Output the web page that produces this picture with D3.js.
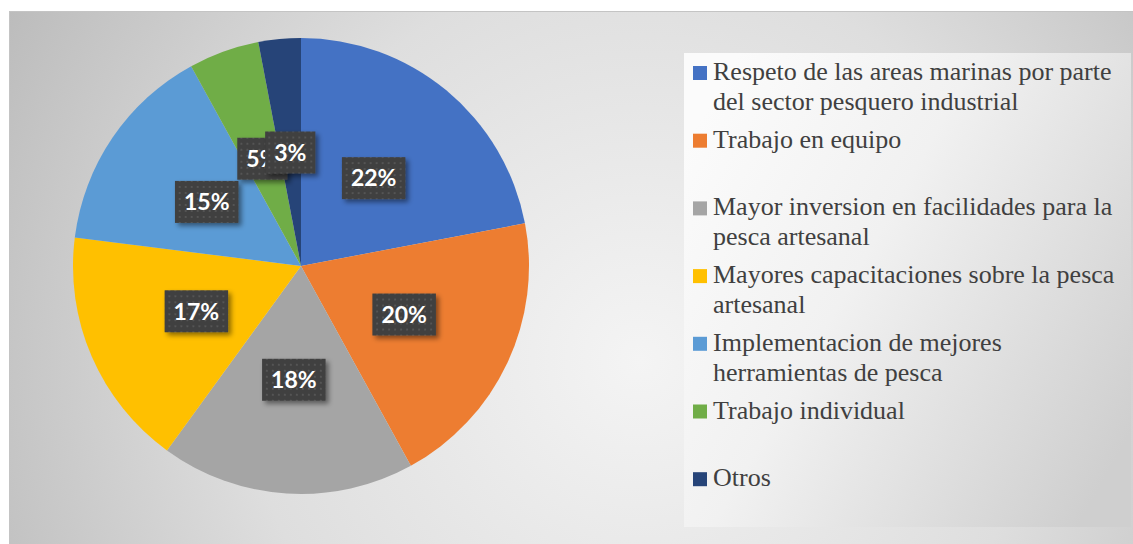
<!DOCTYPE html>
<html>
<head>
<meta charset="utf-8">
<script src="https://cdn.jsdelivr.net/npm/d3@7"></script>
<style>
  body { margin: 0; background: #fff; }
  svg { display: block; }
</style>
</head>
<body>
<div id="chart"></div>
<script>
// data
const categories = [
  'Respeto de las areas marinas por parte del sector pesquero industrial',
  'Trabajo en equipo',
  'Mayor inversion en facilidades para la pesca artesanal',
  'Mayores capacitaciones sobre la pesca artesanal',
  'Implementacion de mejores herramientas de pesca',
  'Trabajo individual',
  'Otros'
];
const values = [22, 20, 18, 17, 15, 5, 3];
const palette = ['#4472c4', '#ed7d31', '#a5a5a5', '#ffc000', '#5b9bd5', '#70ad47', '#264478'];

const width = 1133, height = 544;
const cx = 301, cy = 266, radius = 228;

const svg = d3.select('#chart').append('svg')
  .attr('width', width)
  .attr('height', height);

const defs = svg.append('defs');

// chart background
const bg = defs.append('radialGradient').attr('id', 'bg-grad')
  .attr('gradientUnits', 'userSpaceOnUse')
  .attr('cx', 640).attr('cy', 360).attr('r', 720);
bg.append('stop').attr('offset', '0').attr('stop-color', '#f4f4f4');
bg.append('stop').attr('offset', '0.55').attr('stop-color', '#dedede');
bg.append('stop').attr('offset', '1').attr('stop-color', '#bcbcbc');

const lg = defs.append('linearGradient').attr('id', 'legend-grad')
  .attr('x1', 0).attr('y1', 0.2).attr('x2', 1).attr('y2', 0.8);
lg.append('stop').attr('offset', '0').attr('stop-color', '#fbfbfb');
lg.append('stop').attr('offset', '0.4').attr('stop-color', '#f1f1f1');
lg.append('stop').attr('offset', '1').attr('stop-color', '#cfcfcf');

const pat = defs.append('pattern').attr('id', 'dots')
  .attr('patternUnits', 'userSpaceOnUse')
  .attr('width', 6).attr('height', 6);
pat.append('rect').attr('width', 6).attr('height', 6).attr('fill', '#3f3f3f');
pat.append('rect').attr('x', 2).attr('y', 2).attr('width', 2).attr('height', 2).attr('fill', '#545454');

const shadow = defs.append('filter').attr('id', 'shadow')
  .attr('x', '-30%').attr('y', '-30%').attr('width', '160%').attr('height', '160%');
shadow.append('feDropShadow')
  .attr('dx', 3).attr('dy', 3).attr('stdDeviation', 2.5)
  .attr('flood-color', '#000').attr('flood-opacity', 0.45);

svg.append('rect')
  .attr('x', 9.5).attr('y', 11.5)
  .attr('width', width - 9).attr('height', height - 11)
  .attr('fill', 'url(#bg-grad)')
  .attr('stroke', '#c4c4c4');

// pie
const color = d3.scaleOrdinal().domain(categories).range(palette);
const pie = d3.pie().sort(null).value((d, i) => values[i]);
const arcs = pie(categories);
const arc = d3.arc().innerRadius(0).outerRadius(radius);

const g = svg.append('g').attr('transform', `translate(${cx},${cy})`);

g.selectAll('path')
  .data(arcs)
  .enter().append('path')
  .attr('d', arc)
  .attr('fill', d => color(d.data));

// data labels
const labels = g.selectAll('g.label')
  .data(arcs)
  .enter().append('g')
  .attr('class', 'label')
  .attr('transform', d => `translate(${arc.centroid(d)})`);

labels.append('rect');
labels.append('text')
  .attr('text-anchor', 'middle')
  .attr('dy', '0.36em')
  .attr('fill', '#fff')
  .style('font-family', 'Lato, "Open Sans", sans-serif')
  .style('font-weight', 'bold')
  .style('font-size', '23px')
  .text((d, i) => values[i] + '%');

labels.each(function() {
  const tw = d3.select(this).select('text').node().getComputedTextLength();
  const w = tw + 18, h = 42;
  d3.select(this).select('rect')
    .attr('x', -w / 2).attr('y', -h / 2)
    .attr('width', w).attr('height', h)
    .attr('fill', 'url(#dots)')
    .attr('filter', 'url(#shadow)');
});

// legend
const legendX = 684, legendY = 53, legendW = 447, legendH = 474;
svg.append('rect')
  .attr('x', legendX).attr('y', legendY)
  .attr('width', legendW).attr('height', legendH)
  .attr('fill', 'url(#legend-grad)');

const slot = 67.7, lineH = 30, wrapW = 418;
const legend = svg.append('g')
  .selectAll('g')
  .data(categories)
  .enter().append('g')
  .attr('transform', (d, i) => `translate(693,${80 + i * slot})`);

legend.append('rect')
  .attr('x', 0).attr('y', -14)
  .attr('width', 14).attr('height', 14)
  .attr('fill', d => color(d));

legend.append('text')
  .attr('fill', '#404040')
  .style('font-family', '"Liberation Serif", "Times New Roman", serif')
  .style('font-size', '26px')
  .each(function(d) {
    const text = d3.select(this);
    const words = d.split(' ');
    let line = [], lineNo = 0;
    let tspan = text.append('tspan').attr('x', 20).attr('y', 0);
    words.forEach(word => {
      line.push(word);
      tspan.text(line.join(' '));
      if (tspan.node().getComputedTextLength() > wrapW && line.length > 1) {
        line.pop();
        tspan.text(line.join(' '));
        line = [word];
        lineNo++;
        tspan = text.append('tspan').attr('x', 20).attr('y', lineNo * lineH).text(word);
      }
    });
  });
</script>
</body>
</html>
